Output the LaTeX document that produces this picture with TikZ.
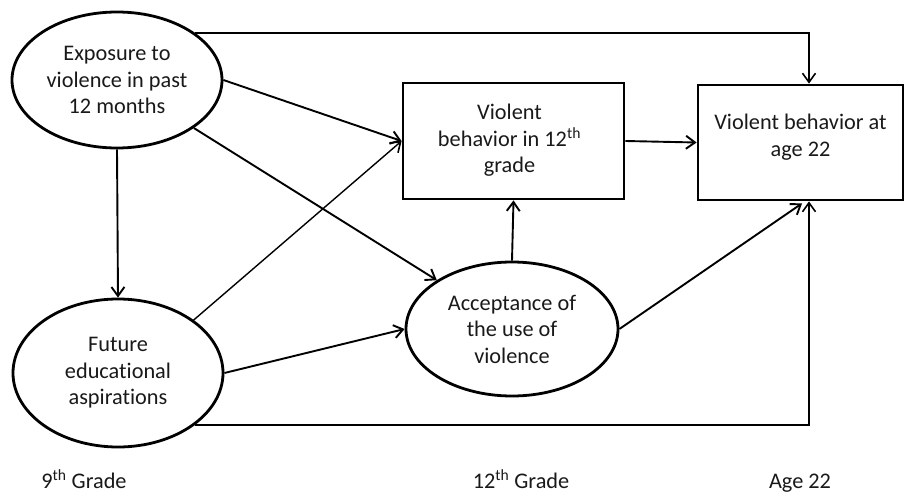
\documentclass[tikz,border=0pt]{standalone}
\usepackage{fontspec}
\setmainfont{Carlito}[Ligatures=NoCommon]
\usetikzlibrary{shapes.geometric,arrows.meta}
\begin{document}
\begin{tikzpicture}[x=1pt,y=-1pt,
  every node/.style={font=\fontsize{22.3}{26.5}\selectfont, text=black!90},
  oval/.style={ellipse, draw, line width=2.8pt, inner sep=0pt, align=center},
  boxnode/.style={rectangle, draw, line width=2.8pt, inner sep=0pt, align=center},
  arr/.style={line width=1.9pt, -{Straight Barb[length=9pt,width=13pt,line width=1.9pt]}},
  thinarr/.style={line width=1.4pt, -{Straight Barb[length=9pt,width=13pt,line width=1.6pt]}},
  lbl/.style={anchor=base}]
\useasboundingbox (0,0) rectangle (910,492);
\node[oval, minimum width=210pt, minimum height=136pt] (e1) at (117,80) {Exposure to\\violence in past\\12 months};
\node[oval, minimum width=210pt, minimum height=148pt] (e2) at (118,373) {Future\\educational\\aspirations};
\node[oval, minimum width=212pt, minimum height=134pt] (ac) at (512,329) {Acceptance of\\the use of\\violence};
\node[boxnode, minimum width=221pt, minimum height=116pt] (b1) at (513.5,141) {\hspace*{-8pt}\begin{tabular}{@{}c@{}}Violent\\behavior in 12\textsuperscript{th}\\grade\end{tabular}};
\node[boxnode, minimum width=205pt, minimum height=115pt, text depth=14pt] (b2) at (800.5,142.5) {Violent behavior at\\age 22};
\draw[thinarr] (e1.31) -| ([xshift=8.5pt]b2.north);
\draw[arr] (e1.east) -- (b1.west);
\draw[arr] (e1.-32) -- (ac.147);
\draw[arr] (e1.south) -- (e2.north);
\draw[thinarr] (e2.35) -- (b1.west);
\draw[arr] (e2.east) -- (ac.west);
\draw[thinarr] (e2.-34) -| ([xshift=8.5pt]b2.south);
\draw[arr] (ac.north) -- (b1.south);
\draw[arr] (ac.east) -- ([xshift=1.5pt,yshift=-2pt]b2.south);
\draw[arr] (b1.east) -- (b2.west);
\node[lbl] (g9) at (84,488) {9\textsuperscript{th} Grade};
\node[lbl] (g12) at (521,488) {12\textsuperscript{th} Grade};
\node[lbl] (a22) at (800,488) {Age 22};
\end{tikzpicture}
\end{document}
